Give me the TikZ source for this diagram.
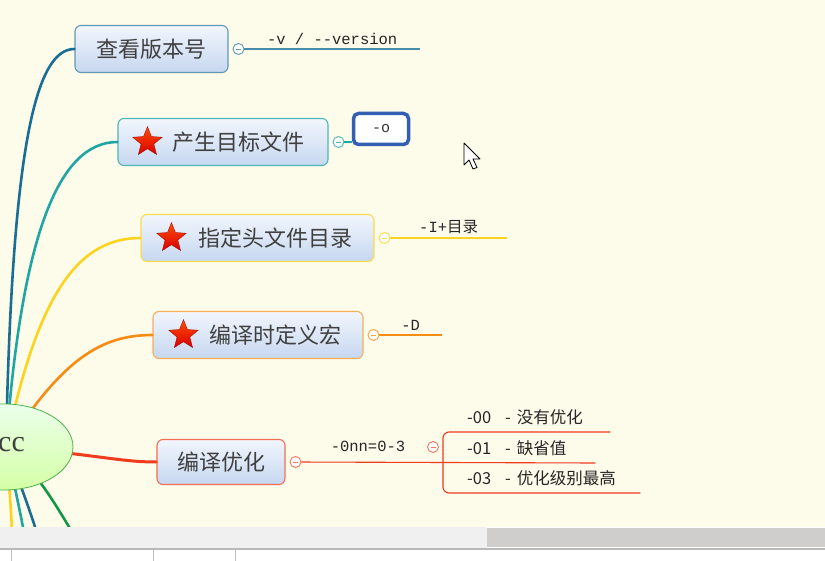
\documentclass[tikz,border=0pt]{standalone}
\usepackage{fontspec}
\setmainfont{Noto Sans CJK SC}
\newfontfamily\codefont{Liberation Mono}
\newfontfamily\rootfont{Liberation Serif}
\usepackage{tikz}
\usetikzlibrary{positioning, shapes.geometric}

\definecolor{paper}{RGB}{253,251,234}
\definecolor{blueline}{RGB}{26,110,150}
\definecolor{tealline}{RGB}{32,165,165}
\definecolor{yellowline}{RGB}{250,212,30}
\definecolor{orangeline}{RGB}{245,140,20}
\definecolor{redline}{RGB}{240,60,30}
\definecolor{greenline}{RGB}{20,150,70}
\definecolor{boxtop}{RGB}{242,246,253}
\definecolor{boxbot}{RGB}{198,215,240}
\definecolor{selblue}{RGB}{50,95,180}
\definecolor{thumb}{RGB}{208,205,205}

\begin{document}
\begin{tikzpicture}[
        x=1pt, y=-1pt,
        topic/.style={
            draw,
            rounded corners=6pt,
            line width=1.1pt,
            top color=boxtop,
            bottom color=boxbot,
            font=\fontsize{22}{24}\selectfont,
            text=black!75,
            inner sep=0pt,
            minimum height=47pt
        },
        fold/.style={
            circle, draw=#1, fill=white, line width=0.9pt,
            minimum size=11pt, inner sep=0pt,
            path picture={\draw[#1, line width=0.7pt]
                ([xshift=-2.5pt]path picture bounding box.center) --
                ([xshift=2.5pt]path picture bounding box.center);}
        },
        starmark/.style={
            star, star points=5, star point ratio=2.3,
            minimum size=31pt, inner sep=0pt,
            top color=orange!60!red, bottom color=red!85!black,
            draw=red!60!black, line width=0.3pt
        },
        opt/.style={font=\codefont\fontsize{15.5}{17}\selectfont, text=black!85, inner sep=2pt},
        child/.style={font=\fontsize{16.5}{18}\selectfont, text=black!85,
            inner xsep=24pt, inner ysep=7pt, align=left},
        branch/.style={line width=2.6pt, line cap=round},
        leaf/.style={line width=1.1pt}
    ]
    \useasboundingbox (0,0) rectangle (825,561);

    % canvas
    \fill[paper] (0,0) rectangle (825,527);

    \begin{scope}
        \clip (0,0) rectangle (825,527);

        % main topics
        \node[topic, draw=blueline!70, minimum width=153pt] (n1) at (151.5,49) {查看版本号};
        \node[topic, draw=tealline!80, minimum width=210pt] (n2) at (223,142) {\hspace*{30pt}产生目标文件};
        \node[topic, draw=yellowline!80, minimum width=233pt] (n3) at (257.5,238) {\hspace*{35pt}指定头文件目录};
        \node[topic, draw=orangeline!70, minimum width=210pt] (n4) at (258,335) {\hspace*{34pt}编译时定义宏};
        \node[topic, draw=redline!75, minimum width=128pt, minimum height=45pt] (n5) at (221,462) {编译优化};

        \node[starmark] (s2) at ([xshift=30pt]n2.west) {};
        \node[starmark] (s3) at ([xshift=31pt]n3.west) {};
        \node[starmark] (s4) at ([xshift=31pt]n4.west) {};

        % branches out of the root
        \coordinate (down1) at (14,600);
        \coordinate (down2) at (36,600);
        \coordinate (down3) at (58,600);
        \coordinate (down4) at (112,600);
        \draw[branch, blueline] (6,447) .. controls (12,150) and (35,49) .. (n1.west);
        \draw[branch, tealline] (6,447) .. controls (22,230) and (60,142) .. (n2.west);
        \draw[branch, yellowline] (6,447) .. controls (38,290) and (80,238) .. (n3.west);
        \draw[branch, orangeline] (6,447) .. controls (62,360) and (100,335) .. (n4.west);
        \draw[branch, redline, line width=3pt] (6,447) .. controls (100,455) and (120,462) .. (n5.west);
        \draw[branch, yellowline] (6,447) .. controls (12,520) .. (down1);
        \draw[branch, tealline] (6,447) .. controls (22,520) .. (down2);
        \draw[branch, blueline] (6,447) .. controls (30,510) .. (down3);
        \draw[branch, greenline] (6,447) .. controls (42,480) .. (down4);

        \node[ellipse, draw=gray!60!green, line width=0.8pt,
            top color=green!8, bottom color=green!30!lime!35,
            minimum width=138pt, minimum height=86pt,
            font=\rootfont\fontsize{30}{32}\selectfont, text=black!75] (root) at (4,447) {gcc};

        % option lines
        \node[fold=blueline!70, right=4pt of n1] (f1) {};
        \node[opt, anchor=south west, minimum width=175pt, inner ysep=4pt] (o1) at (f1.east) {-v / --version};
        \draw[leaf, blueline!80] (f1) -- (o1.south east);

        \node[fold=tealline!80, right=4pt of n2] (f2) {};
        \node[draw=selblue, line width=3.5pt, rounded corners=5pt, fill=white,
            minimum width=55pt, minimum height=31pt,
            font=\codefont\fontsize{15}{16}\selectfont, text=black!80] (o2) at (381,129) {-o};
        \draw[leaf, tealline] (f2) -- (f2 -| o2.west);

        \node[fold=yellowline!80, right=4pt of n3] (f3) {};
        \node[opt, anchor=south west, minimum width=116pt, inner ysep=4pt] (o3) at (f3.east) {-I+\rmfamily 目录};
        \draw[leaf, yellowline] (f3) -- (o3.south east);

        \node[fold=orangeline!80, right=4pt of n4] (f4) {};
        \node[opt, anchor=south west, minimum width=62pt, inner ysep=4pt] (o4) at (f4.east) {-D};
        \draw[leaf, orangeline] (f4) -- (o4.south east);

        % optimisation levels
        \node[fold=redline!70, right=4pt of n5] (f5) {};
        \node[opt] (o5) at (368,446) {-0nn=0-3};
        \node[fold=redline!70] (f6) at (433,447) {};
        \node[child, anchor=south west, text width=119pt] (c1) at (443,432) {-00\hspace{14pt}-\hspace{6pt}没有优化};
        \node[child, anchor=south west, text width=104pt] (c2) at (443,463) {-01\hspace{14pt}-\hspace{6pt}缺省值};
        \node[child, anchor=south west, text width=149pt] (c3) at (443,493) {-03\hspace{14pt}-\hspace{6pt}优化级别最高};
        \draw[leaf, redline] (f5) -- (c2.south east);
        \draw[leaf, redline, rounded corners=6pt] (c1.south east) -- (c1.south west)
            -- (c3.south west) -- (c3.south east);

        % pointer
        \filldraw[fill=white, draw=black, line width=0.8pt, line join=round]
            (464,143) -- (464,165) -- (469,160) -- (473,169) -- (477,167.5)
            -- (473,159) -- (480,159) -- cycle;
    \end{scope}

    % window bars
    \fill[gray!12] (0,527) rectangle (487,548);
    \fill[thumb] (487,528) rectangle (825,547);
    \draw[gray!55, line width=1.5pt] (0,549) -- (825,549);
    \fill[white] (0,550) rectangle (825,561);
    \foreach \xs in {11,153,235}
        \draw[gray!50, line width=0.6pt] (\xs,550) -- (\xs,561);
\end{tikzpicture}
\end{document}
